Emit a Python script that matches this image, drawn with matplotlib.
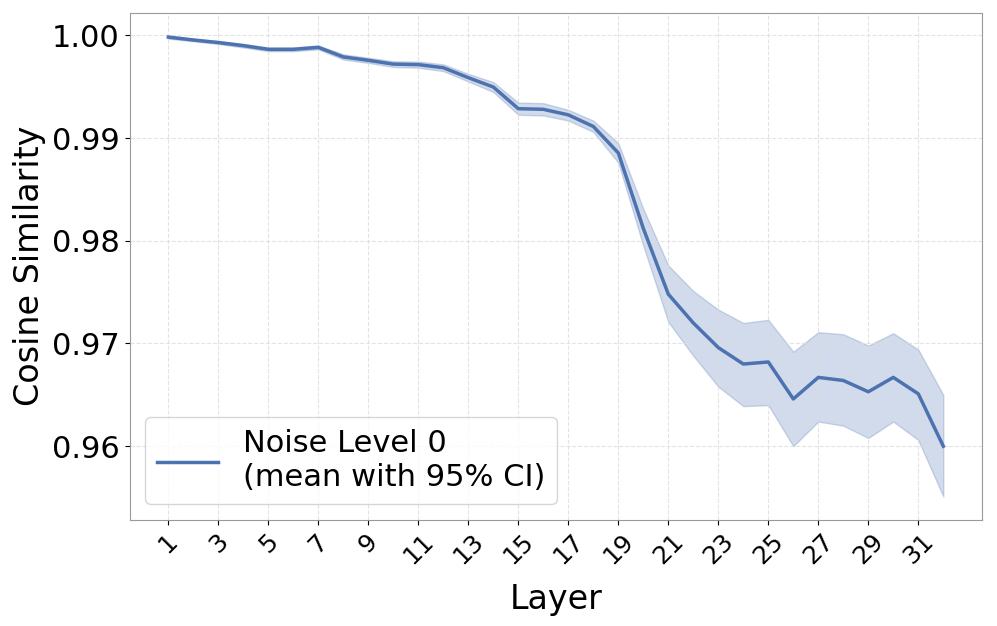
import matplotlib
matplotlib.use("Agg")
import matplotlib.pyplot as plt
import numpy as np

layers = list(range(1, 33))
mean_sim = [0.99983, 0.99955, 0.9993, 0.9990, 0.99864, 0.99864, 0.99883, 0.9979,
            0.99757, 0.9972, 0.99715, 0.99685, 0.99588, 0.99497, 0.99286, 0.9928,
            0.99226, 0.99113, 0.98855, 0.9812, 0.9748, 0.9720, 0.9696, 0.9680,
            0.9682, 0.9646, 0.9667, 0.9664, 0.9653, 0.9667, 0.9651, 0.9600]
ci_upper = [0.99998, 0.99968, 0.99945, 0.99918, 0.99882, 0.99882, 0.99903, 0.99815,
            0.99782, 0.99748, 0.99745, 0.99718, 0.99625, 0.99545, 0.99345, 0.9934,
            0.99275, 0.9917, 0.9895, 0.9831, 0.9776, 0.9751, 0.9733, 0.9720,
            0.9723, 0.9692, 0.9711, 0.9709, 0.9698, 0.9710, 0.9694, 0.9650]
ci_lower = [0.99968, 0.99942, 0.99915, 0.99882, 0.99846, 0.99846, 0.99863, 0.99765,
            0.99732, 0.99692, 0.99685, 0.99652, 0.99551, 0.99449, 0.99227, 0.9922,
            0.99171, 0.9906, 0.9876, 0.9795, 0.9721, 0.9688, 0.9658, 0.9639,
            0.9640, 0.9600, 0.9624, 0.9620, 0.9608, 0.9624, 0.9606, 0.9551]

color = "#4c72b0"

fig, ax = plt.subplots(figsize=(9.97, 6.26), dpi=100)
ax.fill_between(layers, ci_lower, ci_upper, color=color, alpha=0.25)
ax.plot(layers, mean_sim, color=color, linewidth=2.5,
        label="Noise Level 0\n(mean with 95% CI)")

ax.set_xticks(layers[::2])
ax.tick_params(axis="x", labelsize=18, rotation=45)
ax.tick_params(axis="y", labelsize=22)
ax.set_xlabel("Layer", fontsize=24, labelpad=10)
ax.set_ylabel("Cosine Similarity", fontsize=24)
ax.grid(True, linestyle="--", color="#dddddd", alpha=0.8)
for s in ax.spines.values():
    s.set_color("#999999")
ax.legend(loc="lower left", fontsize=22, handlelength=2.0)

plt.subplots_adjust(left=0.13, right=0.985, top=0.98, bottom=0.17)
plt.savefig("out.png", dpi=100)
